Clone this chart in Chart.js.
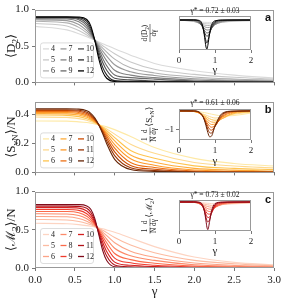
<!DOCTYPE html>
<html>
<head>
<meta charset="utf-8">
<script src="https://cdn.jsdelivr.net/npm/chart.js@4.4.1/dist/chart.umd.min.js"></script>
<style>
  html, body { margin: 0; padding: 0; background: #fff; }
  #wrap { position: relative; width: 286px; height: 301px; overflow: hidden; }
  canvas { position: absolute; }
</style>
</head>
<body>
<div id="wrap">
  <canvas id="mainA" width="286" height="92" style="left:0;top:0"></canvas>
  <canvas id="mainB" width="286" height="90" style="left:0;top:92px"></canvas>
  <canvas id="mainC" width="286" height="119" style="left:0;top:182px"></canvas>
  <canvas id="insetA" width="150" height="80" style="left:130px;top:0"></canvas>
  <canvas id="insetB" width="150" height="80" style="left:130px;top:92px"></canvas>
  <canvas id="insetC" width="150" height="80" style="left:130px;top:183px"></canvas>
</div>
<script>
// gamma grid of the main panels and of the insets
const gamma = [0, 0.4, 0.55, 0.65, 0.7, 0.75, 0.8, 0.85, 0.9, 1.0, 1.2, 1.5, 2.0, 2.5, 3.0];
const gammaInset = [0, 0.4, 0.55, 0.65, 0.7, 0.75, 0.775, 0.8, 0.85, 0.9, 1.0, 1.2, 1.5, 2.0];
const sizes = ['4', '5', '6', '7', '8', '9', '10', '11', '12'];

// <D2>, one row per N = 4..12
const D2 = [
  [0.77, 0.721, 0.669, 0.627, 0.604, 0.58, 0.556, 0.532, 0.508, 0.461, 0.374, 0.26, 0.16, 0.10, 0.06],
  [0.81, 0.774, 0.712, 0.651, 0.617, 0.58, 0.542, 0.504, 0.466, 0.394, 0.28, 0.18, 0.11, 0.07, 0.045],
  [0.84, 0.818, 0.756, 0.68, 0.632, 0.58, 0.525, 0.47, 0.416, 0.319, 0.2, 0.13, 0.075, 0.047, 0.03],
  [0.86, 0.849, 0.796, 0.71, 0.65, 0.58, 0.505, 0.43, 0.36, 0.242, 0.145, 0.095, 0.05, 0.031, 0.02],
  [0.875, 0.871, 0.832, 0.744, 0.67, 0.58, 0.481, 0.383, 0.296, 0.166, 0.1, 0.065, 0.032, 0.02, 0.012],
  [0.885, 0.884, 0.86, 0.777, 0.693, 0.58, 0.452, 0.33, 0.229, 0.102, 0.066, 0.045, 0.02, 0.012, 0.007],
  [0.89, 0.89, 0.877, 0.807, 0.717, 0.58, 0.419, 0.273, 0.166, 0.057, 0.035, 0.02, 0.012, 0.007, 0.004],
  [0.895, 0.895, 0.89, 0.838, 0.746, 0.58, 0.375, 0.206, 0.104, 0.025, 0.016, 0.01, 0.006, 0.004, 0.002],
  [0.9, 0.9, 0.898, 0.864, 0.776, 0.58, 0.326, 0.144, 0.057, 0.012, 0.007, 0.004, 0.003, 0.002, 0.001]
];
// <S_vN>/N
const SvN = [
  [0.356, 0.355, 0.350, 0.345, 0.341, 0.336, 0.33, 0.323, 0.315, 0.296, 0.249, 0.172, 0.097, 0.062, 0.044],
  [0.383, 0.381, 0.372, 0.361, 0.352, 0.342, 0.33, 0.316, 0.30, 0.265, 0.195, 0.132, 0.068, 0.044, 0.031],
  [0.397, 0.395, 0.386, 0.371, 0.361, 0.347, 0.33, 0.311, 0.289, 0.241, 0.152, 0.098, 0.045, 0.028, 0.019],
  [0.407, 0.405, 0.397, 0.381, 0.368, 0.351, 0.33, 0.305, 0.277, 0.218, 0.12, 0.07, 0.028, 0.016, 0.01],
  [0.415, 0.414, 0.407, 0.39, 0.375, 0.356, 0.33, 0.299, 0.265, 0.193, 0.095, 0.05, 0.017, 0.009, 0.005],
  [0.422, 0.421, 0.415, 0.399, 0.383, 0.36, 0.33, 0.293, 0.251, 0.168, 0.068, 0.034, 0.01, 0.005, 0.002],
  [0.428, 0.428, 0.423, 0.408, 0.391, 0.366, 0.33, 0.285, 0.235, 0.142, 0.048, 0.022, 0.005, 0.002, 0.001],
  [0.434, 0.434, 0.430, 0.417, 0.40, 0.371, 0.33, 0.277, 0.218, 0.116, 0.032, 0.013, 0.003, 0.001, 0],
  [0.44, 0.44, 0.438, 0.426, 0.409, 0.378, 0.33, 0.267, 0.198, 0.09, 0.02, 0.007, 0.001, 0, 0]
];
// <M2>/N
const M2 = [
  [0.585, 0.58, 0.568, 0.555, 0.547, 0.537, 0.525, 0.513, 0.498, 0.467, 0.393, 0.28, 0.143, 0.074, 0.041],
  [0.635, 0.628, 0.609, 0.583, 0.565, 0.544, 0.52, 0.493, 0.463, 0.399, 0.30, 0.20, 0.10, 0.055, 0.03],
  [0.675, 0.67, 0.648, 0.612, 0.586, 0.553, 0.514, 0.47, 0.424, 0.33, 0.22, 0.14, 0.065, 0.035, 0.02],
  [0.71, 0.707, 0.687, 0.644, 0.609, 0.563, 0.507, 0.444, 0.379, 0.258, 0.16, 0.10, 0.042, 0.022, 0.012],
  [0.74, 0.739, 0.723, 0.678, 0.634, 0.574, 0.498, 0.414, 0.33, 0.19, 0.11, 0.063, 0.025, 0.013, 0.007],
  [0.765, 0.765, 0.754, 0.711, 0.662, 0.587, 0.488, 0.379, 0.276, 0.129, 0.068, 0.035, 0.013, 0.006, 0.003],
  [0.79, 0.79, 0.784, 0.747, 0.695, 0.604, 0.476, 0.336, 0.216, 0.077, 0.035, 0.018, 0.006, 0.003, 0.001],
  [0.81, 0.81, 0.807, 0.781, 0.73, 0.623, 0.46, 0.286, 0.156, 0.04, 0.016, 0.008, 0.003, 0.001, 0],
  [0.83, 0.83, 0.829, 0.813, 0.768, 0.649, 0.439, 0.227, 0.098, 0.016, 0.006, 0.003, 0.001, 0, 0]
];

// inset derivatives
const dD2 = [
  [0, -0.287, -0.399, -0.448, -0.466, -0.477, -0.481, -0.483, -0.484, -0.48, -0.463, -0.40, -0.28, -0.16],
  [0, -0.292, -0.533, -0.668, -0.715, -0.747, -0.756, -0.762, -0.762, -0.748, -0.688, -0.46, -0.22, -0.11],
  [0, -0.241, -0.619, -0.897, -1.006, -1.077, -1.097, -1.107, -1.096, -1.05, -0.86, -0.40, -0.16, -0.083],
  [0, -0.158, -0.625, -1.105, -1.315, -1.46, -1.498, -1.511, -1.467, -1.349, -0.95, -0.31, -0.12, -0.064],
  [0, -0.074, -0.549, -1.268, -1.66, -1.929, -1.994, -2.003, -1.875, -1.609, -0.88, -0.22, -0.085, -0.045],
  [0, -0.023, -0.41, -1.357, -1.997, -2.479, -2.581, -2.571, -2.264, -1.753, -0.75, -0.13, -0.058, -0.033],
  [0, -0.005, -0.268, -1.332, -2.29, -3.097, -3.251, -3.187, -2.561, -1.729, -0.57, -0.074, -0.029, -0.013],
  [0, 0, -0.131, -1.19, -2.6, -4.2, -4.6, -4.2, -2.8, -1.5, -0.35, -0.03, -0.012, -0.006],
  [0, 0, -0.065, -0.96, -2.9, -5.4, -5.8, -5.1, -2.7, -1.1, -0.16, -0.016, -0.005, -0.002]
];
const dSvN = [
  [0, -0.016, -0.043, -0.071, -0.088, -0.106, -0.116, -0.127, -0.147, -0.169, -0.208, -0.263, -0.249, -0.11],
  [0, -0.029, -0.087, -0.149, -0.185, -0.224, -0.243, -0.263, -0.299, -0.332, -0.376, -0.33, -0.18, -0.07],
  [0, -0.028, -0.103, -0.192, -0.246, -0.305, -0.334, -0.362, -0.413, -0.455, -0.492, -0.403, -0.15, -0.04],
  [0, -0.023, -0.107, -0.222, -0.298, -0.38, -0.421, -0.46, -0.53, -0.579, -0.598, -0.405, -0.11, -0.025],
  [0, -0.017, -0.101, -0.242, -0.343, -0.455, -0.512, -0.566, -0.658, -0.713, -0.692, -0.34, -0.075, -0.015],
  [0, -0.017, -0.091, -0.254, -0.382, -0.533, -0.61, -0.683, -0.802, -0.859, -0.768, -0.3, -0.05, -0.008],
  [0, -0.01, -0.077, -0.256, -0.414, -0.611, -0.714, -0.812, -0.963, -1.012, -0.815, -0.24, -0.03, -0.004],
  [0, -0.005, -0.063, -0.251, -0.44, -0.693, -0.829, -0.959, -1.144, -1.17, -0.824, -0.18, -0.02, 0],
  [0, 0, -0.048, -0.238, -0.458, -0.781, -0.963, -1.134, -1.359, -1.331, -0.789, -0.13, -0.01, 0]
];
const dM2 = [
  [0, -0.048, -0.107, -0.158, -0.184, -0.213, -0.227, -0.241, -0.269, -0.295, -0.34, -0.387, -0.35, -0.195],
  [0, -0.072, -0.199, -0.322, -0.39, -0.456, -0.488, -0.518, -0.572, -0.613, -0.653, -0.48, -0.25, -0.12],
  [0, -0.067, -0.254, -0.472, -0.598, -0.721, -0.778, -0.828, -0.906, -0.946, -0.85, -0.45, -0.19, -0.08],
  [0, -0.049, -0.27, -0.605, -0.818, -1.028, -1.12, -1.197, -1.291, -1.296, -1.0, -0.38, -0.15, -0.06],
  [0, -0.019, -0.248, -0.705, -1.035, -1.374, -1.518, -1.627, -1.716, -1.625, -1.0, -0.3, -0.105, -0.04],
  [0, -0.013, -0.197, -0.746, -1.233, -1.766, -1.988, -2.141, -2.182, -1.9, -0.9, -0.19, -0.07, -0.02],
  [0, -0.005, -0.131, -0.734, -1.411, -2.24, -2.585, -2.792, -2.68, -2.058, -0.7, -0.12, -0.036, -0.01],
  [0, 0, -0.07, -0.632, -1.498, -2.776, -3.325, -3.604, -3.154, -2.024, -0.5, -0.06, -0.016, -0.005],
  [0, 0, -0.033, -0.468, -1.475, -3.4, -4.5, -4.95, -3.493, -1.733, -0.29, -0.03, -0.008, -0.002]
];

const insetTitles = ['γ* = 0.72 ± 0.03', 'γ* = 0.61 ± 0.06', 'γ* = 0.73 ± 0.02'];
const panelLetters = ['a', 'b', 'c'];

const greys = ['#dadada', '#c8c8c8', '#b2b2b2', '#9a9a9a', '#828282', '#696969', '#4d4d4d', '#2a2a2a', '#000000'];
const oranges = ['#fee9a6', '#fed98e', '#fec44f', '#feac3a', '#fe9929', '#ec7014', '#cc4c02', '#993404', '#662506'];
const reds = ['#fdd4c2', '#fcbba1', '#fca487', '#fc8a6a', '#fb6a4a', '#ef3b2c', '#d42020', '#b11218', '#7f0a1a'];

const SERIF = "'Liberation Serif', 'DejaVu Serif', serif";
const INK = '#222';
const SPINE = '#999';

function buildDatasets(xs, rows, colors, width) {
  return rows.map((row, k) => ({
    label: sizes[k],
    data: xs.map((x, i) => ({ x: x, y: row[i] })),
    borderColor: colors[k],
    borderWidth: width,
    pointRadius: 0,
    fill: false,
    cubicInterpolationMode: 'monotone',
    order: rows.length - k
  }));
}

// text made of [string, isSubscript] pieces
function partsWidth(ctx, parts, size) {
  let w = 0;
  parts.forEach(p => {
    ctx.font = (p[1] ? size * 0.7 : size) + 'px ' + SERIF;
    w += ctx.measureText(p[0]).width;
  });
  return w;
}
function drawParts(ctx, parts, x, y, size) {
  let cx = x;
  parts.forEach(p => {
    const s = p[1] ? size * 0.7 : size;
    ctx.font = s + 'px ' + SERIF;
    ctx.fillText(p[0], cx, y + (p[1] ? size * 0.28 : 0));
    cx += ctx.measureText(p[0]).width;
  });
}
// rotated label, items are plain parts or {frac: [num, den]}
function drawRotatedLabel(ctx, items, cx, cy, size) {
  ctx.save();
  ctx.translate(cx, cy);
  ctx.rotate(-Math.PI / 2);
  ctx.fillStyle = INK;
  ctx.strokeStyle = INK;
  ctx.textBaseline = 'middle';
  ctx.textAlign = 'left';
  const fs = size * 0.8;
  const widths = items.map(it => it.frac
    ? Math.max(partsWidth(ctx, it.frac[0], fs), partsWidth(ctx, it.frac[1], fs)) + 1
    : partsWidth(ctx, it, size));
  const gap = 1;
  let total = widths.reduce((a, b) => a + b, 0) + gap * (items.length - 1);
  let x = -total / 2;
  items.forEach((it, i) => {
    const w = widths[i];
    if (it.frac) {
      const nw = partsWidth(ctx, it.frac[0], fs);
      const dw = partsWidth(ctx, it.frac[1], fs);
      drawParts(ctx, it.frac[0], x + (w - nw) / 2, -fs * 0.62, fs);
      drawParts(ctx, it.frac[1], x + (w - dw) / 2, fs * 0.62, fs);
      ctx.lineWidth = 0.6;
      ctx.beginPath();
      ctx.moveTo(x, 0);
      ctx.lineTo(x + w, 0);
      ctx.stroke();
    } else {
      drawParts(ctx, it, x, 0, size);
    }
    x += w + gap;
  });
  ctx.restore();
}

function framePlugin(fillWhite) {
  return {
    id: 'frame',
    beforeDatasetsDraw(chart) {
      if (!fillWhite) return;
      const a = chart.chartArea;
      chart.ctx.save();
      chart.ctx.fillStyle = '#fff';
      chart.ctx.fillRect(a.left, a.top, a.right - a.left, a.bottom - a.top);
      chart.ctx.restore();
    },
    afterDatasetsDraw(chart) {
      const a = chart.chartArea;
      const ctx = chart.ctx;
      ctx.save();
      ctx.strokeStyle = SPINE;
      ctx.lineWidth = 1;
      ctx.strokeRect(Math.round(a.left) + 0.5, Math.round(a.top) + 0.5,
        Math.round(a.right - a.left) - 1, Math.round(a.bottom - a.top) - 1);
      ctx.restore();
    }
  };
}

function mainDecor(label, letter, colors, showX) {
  return {
    id: 'mainDecor',
    afterDraw(chart) {
      const a = chart.chartArea;
      const ctx = chart.ctx;
      // legend, 3 columns x 3 rows
      const bl = a.left + 5, br = a.left + 58, bt = a.bottom - 40, bb = a.bottom - 5;
      ctx.save();
      ctx.fillStyle = 'rgba(255,255,255,0.85)';
      ctx.strokeStyle = '#d4d4d4';
      ctx.lineWidth = 0.8;
      ctx.beginPath();
      ctx.roundRect(bl + 0.5, bt + 0.5, br - bl, bb - bt, 2.5);
      ctx.fill();
      ctx.stroke();
      ctx.font = '8px ' + SERIF;
      ctx.textBaseline = 'middle';
      ctx.textAlign = 'left';
      sizes.forEach((s, k) => {
        const col = Math.floor(k / 3), row = k % 3;
        const lx = bl + 3 + col * 17.5;
        const ly = bt + 6.5 + row * 11;
        ctx.strokeStyle = colors[k];
        ctx.lineWidth = 1.3;
        ctx.beginPath();
        ctx.moveTo(lx, ly);
        ctx.lineTo(lx + 6, ly);
        ctx.stroke();
        ctx.fillStyle = INK;
        ctx.fillText(s, lx + 8, ly + 0.5);
      });
      // panel letter
      ctx.font = "bold 11px 'Liberation Sans', Arial, sans-serif";
      ctx.textAlign = 'center';
      ctx.fillStyle = '#111';
      ctx.fillText(letter, a.right - 6, a.top + 8);
      ctx.restore();
      drawRotatedLabel(ctx, [label], 12, (a.top + a.bottom) / 2, 13);
      if (showX) {
        ctx.save();
        ctx.fillStyle = INK;
        ctx.font = '13px ' + SERIF;
        ctx.textAlign = 'center';
        ctx.textBaseline = 'middle';
        ctx.fillText('γ', (a.left + a.right) / 2, 110);
        ctx.restore();
      }
    }
  };
}

function makeMain(id, rows, colors, yMax, yStep, padTop, xHeight, showX, label, letter) {
  new Chart(document.getElementById(id), {
    type: 'line',
    data: { datasets: buildDatasets(gamma, rows, colors, 1.1) },
    options: {
      responsive: false,
      animation: false,
      events: [],
      layout: { padding: { top: padTop, right: 12, left: 0, bottom: 0 } },
      plugins: { legend: { display: false }, tooltip: { enabled: false } },
      scales: {
        x: {
          type: 'linear', min: 0, max: 3,
          ticks: {
            stepSize: 0.5, display: showX, autoSkip: false, maxRotation: 0,
            padding: 3, color: INK, font: { family: SERIF, size: 11 },
            callback: v => v.toFixed(1)
          },
          grid: { drawOnChartArea: false, drawTicks: true, tickLength: 3, color: '#555', lineWidth: 0.8 },
          border: { display: false },
          afterFit: s => { s.height = xHeight; }
        },
        y: {
          min: 0, max: yMax,
          ticks: {
            stepSize: yStep, padding: 3, color: INK, font: { family: SERIF, size: 11 },
            callback: v => v.toFixed(1)
          },
          grid: { drawOnChartArea: false, drawTicks: true, tickLength: 3, color: '#555', lineWidth: 0.8 },
          border: { display: false },
          afterBuildTicks: s => {
            s.ticks = s.ticks.filter(t => Math.abs(t.value / yStep - Math.round(t.value / yStep)) < 1e-6);
          },
          afterFit: s => { s.width = 35; }
        }
      }
    },
    plugins: [framePlugin(false), mainDecor(label, letter, colors, showX)]
  });
}

function insetDecor(title, ylabel, titleY, gammaY) {
  return {
    id: 'insetDecor',
    afterDraw(chart) {
      const a = chart.chartArea;
      const ctx = chart.ctx;
      ctx.save();
      ctx.fillStyle = INK;
      ctx.textAlign = 'center';
      ctx.textBaseline = 'middle';
      ctx.font = '7.5px ' + SERIF;
      ctx.fillText(title, (a.left + a.right) / 2, titleY);
      ctx.font = '11px ' + SERIF;
      ctx.fillText('γ', (a.left + a.right) / 2, gammaY);
      ctx.restore();
      drawRotatedLabel(ctx, ylabel, 20, (a.top + a.bottom) / 2, 9);
    }
  };
}

function makeInset(id, rows, colors, yMin, yMax, yStep, padTop, xHeight, title, ylabel, titleY, gammaY) {
  new Chart(document.getElementById(id), {
    type: 'line',
    data: { datasets: buildDatasets(gammaInset, rows, colors, 1.0) },
    options: {
      responsive: false,
      animation: false,
      events: [],
      layout: { padding: { top: padTop, right: 29, left: 0, bottom: 0 } },
      plugins: { legend: { display: false }, tooltip: { enabled: false } },
      scales: {
        x: {
          type: 'linear', min: 0, max: 2,
          ticks: {
            stepSize: 1, autoSkip: false, maxRotation: 0, padding: 2,
            color: INK, font: { family: SERIF, size: 9 }
          },
          grid: { drawOnChartArea: false, drawTicks: true, tickLength: 3, color: '#555', lineWidth: 0.8 },
          border: { display: false },
          afterFit: s => { s.height = xHeight; }
        },
        y: {
          min: yMin, max: yMax,
          ticks: {
            stepSize: yStep, padding: 2, color: INK, font: { family: SERIF, size: 9 },
            callback: v => (v < 0 ? '\u2212' + Math.abs(v) : String(Math.abs(v)))
          },
          grid: { drawOnChartArea: false, drawTicks: true, tickLength: 3, color: '#555', lineWidth: 0.8 },
          border: { display: false },
          afterBuildTicks: s => {
            s.ticks = s.ticks.filter(t => Math.abs(t.value / yStep - Math.round(t.value / yStep)) < 1e-6);
          },
          afterFit: s => { s.width = 49; }
        }
      }
    },
    plugins: [framePlugin(true), insetDecor(title, ylabel, titleY, gammaY)]
  });
}

makeMain('mainA', D2, greys, 1.0, 0.5, 6, 5, false, [['⟨D', 0], ['2', 1], ['⟩', 0]], panelLetters[0]);
makeMain('mainB', SvN, oranges, 0.49, 0.2, 5, 5, false, [['⟨S', 0], ['vN', 1], ['⟩/N', 0]], panelLetters[1]);
makeMain('mainC', M2, reds, 1.0, 0.5, 7, 33, true, [['⟨ℳ', 0], ['2', 1], ['⟩/N', 0]], panelLetters[2]);

makeInset('insetA', dD2, greys, -6, 0.8, 5, 16, 30, insetTitles[0],
  [{ frac: [[['d⟨D', 0], ['2', 1], ['⟩', 0]], [['dγ', 0]]] }], 11, 70);
makeInset('insetB', dSvN, oranges, -1.53, 0.1, 1, 17, 32, insetTitles[1],
  [{ frac: [[['1', 0]], [['N', 0]]] }, { frac: [[['d', 0]], [['dγ', 0]]] }, [['⟨S', 0], ['vN', 1], ['⟩', 0]]], 11, 69);
makeInset('insetC', dM2, reds, -5.2, 0.35, 5, 17, 32, insetTitles[2],
  [{ frac: [[['1', 0]], [['N', 0]]] }, { frac: [[['d', 0]], [['dγ', 0]]] }, [['⟨ℳ', 0], ['2', 1], ['⟩', 0]]], 12, 68);
</script>
</body>
</html>
